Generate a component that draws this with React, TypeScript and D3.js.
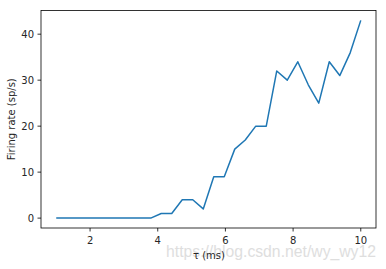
import React from "react";
import * as d3 from "d3";

const tauValues: number[] = d3.range(30).map((i) => 1 + (9 * i) / 29);
const firingRates: number[] = [
  0, 0, 0, 0, 0, 0, 0, 0, 0, 0,
  1, 1, 4, 4, 2, 9, 9, 15, 17, 20,
  20, 32, 30, 34, 29, 25, 34, 31, 36, 43,
];
const xTicks: number[] = [2, 4, 6, 8, 10];
const yTicks: number[] = [0, 10, 20, 30, 40];
const xLabel = "τ (ms)";
const yLabel = "Firing rate (sp/s)";
const watermark = "https://blog.csdn.net/wy_wy12";

const W = 386;
const H = 269;
const left = 41;
const right = 376;
const top = 10.5;
const bottom = 228;

export default function App() {
  const x = d3.scaleLinear().domain([0.55, 10.45]).range([left, right]);
  const y = d3.scaleLinear().domain([-2.15, 45.15]).range([bottom, top]);
  const pts: [number, number][] = tauValues.map((t, i) => [t, firingRates[i]]);
  const line = d3
    .line<[number, number]>()
    .x((d) => x(d[0]))
    .y((d) => y(d[1]));
  const font = "DejaVu Sans, sans-serif";
  return (
    <svg
      width={W}
      height={H}
      style={{ position: "absolute", left: 0, top: 0, background: "#fff" }}
      fontFamily={font}
    >
      <rect x={0} y={0} width={W} height={H} fill="#fff" />
      <path d={line(pts) ?? ""} fill="none" stroke="#1f77b4" strokeWidth={1.5} strokeLinejoin="round" />
      <rect x={left} y={top} width={right - left} height={bottom - top} fill="none" stroke="#000" strokeWidth={0.8} />
      {xTicks.map((t) => (
        <g key={"x" + t}>
          <line x1={x(t)} x2={x(t)} y1={bottom} y2={bottom + 3.5} stroke="#000" strokeWidth={0.8} />
          <text x={x(t)} y={bottom + 15.5} fontSize={10} textAnchor="middle" fill="#262626">
            {t}
          </text>
        </g>
      ))}
      {yTicks.map((t) => (
        <g key={"y" + t}>
          <line x1={left - 3.5} x2={left} y1={y(t)} y2={y(t)} stroke="#000" strokeWidth={0.8} />
          <text x={left - 7} y={y(t)} dy="0.35em" fontSize={10} textAnchor="end" fill="#262626">
            {t}
          </text>
        </g>
      ))}
      <text
        x={166}
        y={257}
        fontSize={17}
        textLength={210}
        lengthAdjust="spacingAndGlyphs"
        fill="#dedede"
        fontFamily="Liberation Sans, Arial, sans-serif"
      >
        {watermark}
      </text>
      <text x={209} y={259} fontSize={10} textAnchor="middle" fill="#262626">
        {xLabel}
      </text>
      <text
        transform={`translate(15,${(top + bottom) / 2}) rotate(-90)`}
        fontSize={10}
        textAnchor="middle"
        fill="#262626"
      >
        {yLabel}
      </text>
    </svg>
  );
}
